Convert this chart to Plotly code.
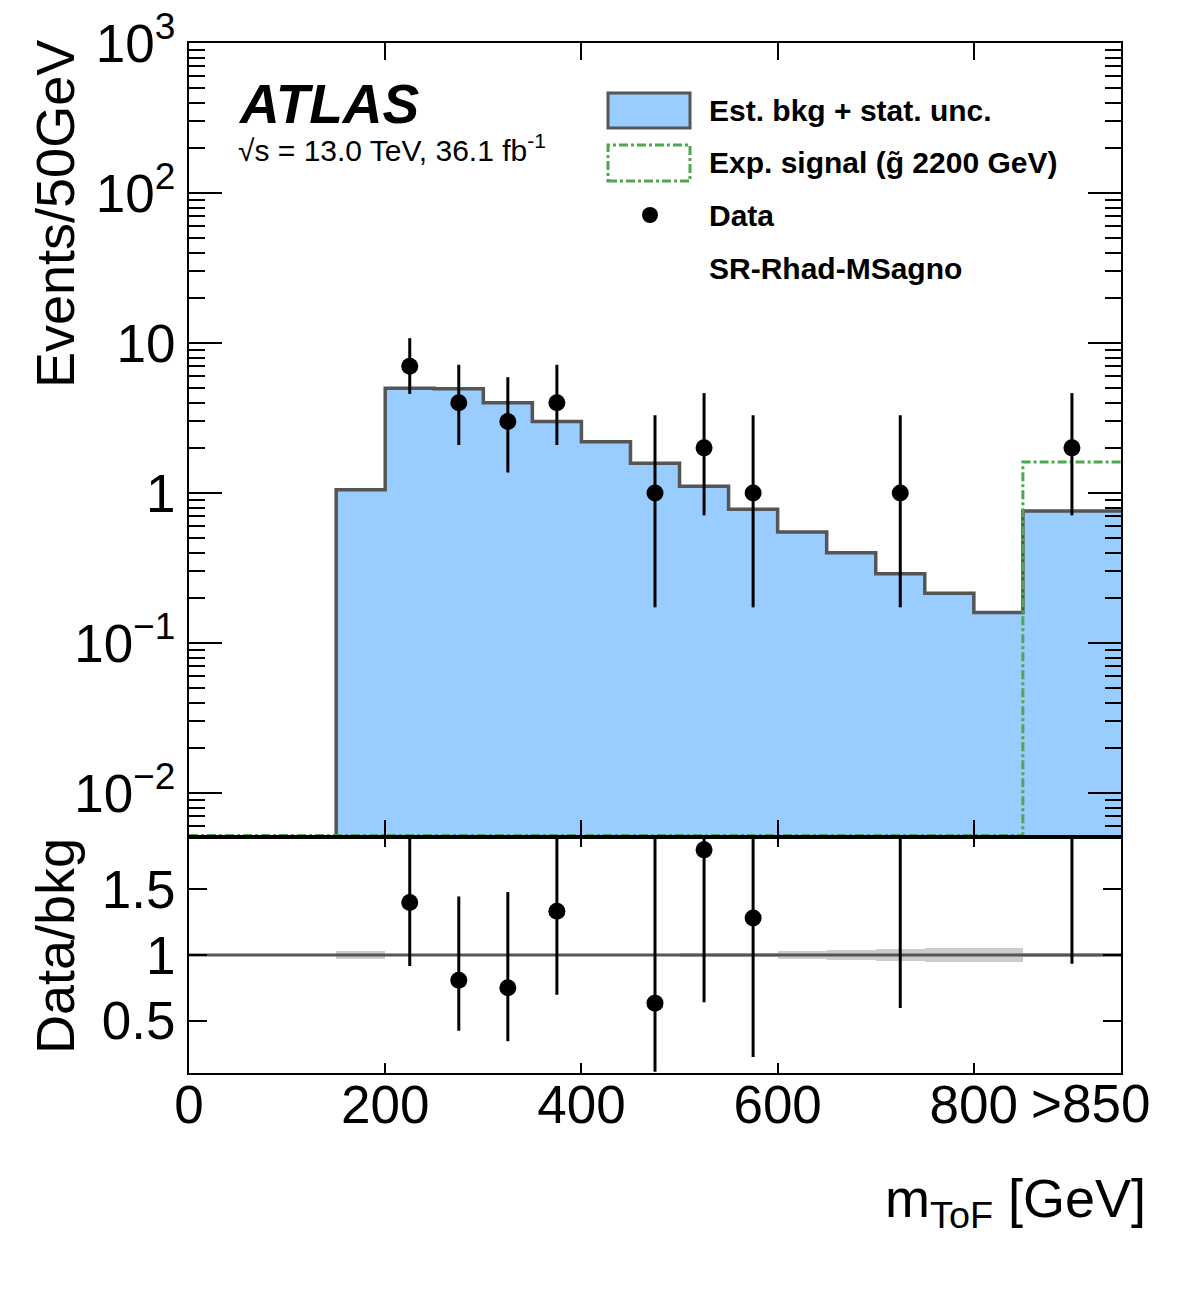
import plotly.graph_objects as go
import numpy as np

# ---------------- data ----------------
bin_edges = [0, 150, 200, 250, 300, 350, 400, 450, 500, 550, 600, 650, 700, 750, 800, 850, 950]
bkg = [0, 1.05, 5.0, 4.95, 4.0, 3.0, 2.2, 1.58, 1.11, 0.78, 0.55, 0.40, 0.29, 0.215, 0.16, 0.76]
bkg_rel_unc = [0, 0.03, 0.006, 0.006, 0.008, 0.008, 0.01, 0.01, 0.012, 0.015, 0.03, 0.04, 0.045, 0.05, 0.057, 0.012]
signal = [0, 0, 0, 0, 0, 0, 0, 0, 0, 0, 0, 0, 0, 0, 0, 1.61]

data_x = [225, 275, 325, 375, 475, 525, 575, 725, 900]
data_y = [7, 4, 3, 4, 1, 2, 1, 1, 2]
data_err_up = [3.77, 3.16, 2.92, 3.16, 2.30, 2.64, 2.30, 2.30, 2.64]
data_err_dn = [2.42, 1.91, 1.63, 1.91, 0.827, 1.29, 0.827, 0.827, 1.29]

y_tickvals = [1e-2, 1e-1, 1, 10, 1e2, 1e3]
y_ticktext = ["10<sup>\u22122</sup>", "10<sup>\u22121</sup>", "1", "10", "10<sup>2</sup>", "10<sup>3</sup>"]
x_tickvals = [0, 200, 400, 600, 800]
x_ticktext = ["0", "200", "400", "600", "800"]
r_tickvals = [0.5, 1, 1.5]
r_ticktext = ["0.5", "1", "1.5"]

# ---------------- geometry ----------------
W, H = 1182, 1311
L, R, T, B = 189, 1121, 43, 1073
SPLIT = 837
YMIN_LOG = -2.293
YMAX_LOG = 3.0
FONT = "Liberation Sans, Arial, Helvetica, sans-serif"
TICK_SIZE = 53

def px2x(px):
    return (px - L) / (R - L)

def py2y(py):
    return (B - py) / (B - T)

lo = bin_edges[:-1]
hi = bin_edges[1:]
centers = [(a + b) / 2 for a, b in zip(lo, hi)]
widths = [b - a for a, b in zip(lo, hi)]
ymin = 10 ** YMIN_LOG
floor = ymin * 0.1

fig = go.Figure()

# background filled histogram
fig.add_trace(go.Bar(x=centers, y=[v if v > 0 else None for v in bkg], width=widths,
                     marker=dict(color="#99ccff", line=dict(width=0)),
                     xaxis="x", yaxis="y", showlegend=False, hoverinfo="skip"))

# background outline
step_x = lo + [hi[-1]]
step_y = [v if v > 0 else floor for v in bkg] + [bkg[-1]]
fig.add_trace(go.Scatter(x=step_x, y=step_y, mode="lines", line=dict(color="#555555", width=3.5, shape="hv"),
                         xaxis="x", yaxis="y", showlegend=False, hoverinfo="skip"))

# signal outline
sig_y = [v if v > 0 else ymin * 1.025 for v in signal] + [signal[-1]]
fig.add_trace(go.Scatter(x=step_x, y=sig_y, mode="lines",
                         line=dict(color="#4fa84f", width=3, shape="hv", dash="dashdot"),
                         xaxis="x", yaxis="y", showlegend=False, hoverinfo="skip"))

# data
fig.add_trace(go.Scatter(x=data_x, y=data_y, mode="markers",
                         marker=dict(color="black", size=17),
                         error_y=dict(type="data", array=data_err_up, arrayminus=data_err_dn,
                                      color="black", thickness=3, width=0),
                         xaxis="x", yaxis="y", showlegend=False, hoverinfo="skip"))

# ---------------- ratio ----------------
band_base = [1 - u for u in bkg_rel_unc]
band_h = [2 * u for u in bkg_rel_unc]
fig.add_trace(go.Bar(x=centers[1:], y=band_h[1:], base=band_base[1:], width=widths[1:],
                     marker=dict(color="#cccccc", line=dict(width=0)),
                     xaxis="x2", yaxis="y2", showlegend=False, hoverinfo="skip"))
fig.add_trace(go.Scatter(x=[bin_edges[0], bin_edges[-1]], y=[1, 1], mode="lines",
                         line=dict(color="#555555", width=3),
                         xaxis="x2", yaxis="y2", showlegend=False, hoverinfo="skip"))

bkg_at = {c: b for c, b in zip(centers, bkg)}
ratio = [d / bkg_at[x] for x, d in zip(data_x, data_y)]
r_up = [e / bkg_at[x] for x, e in zip(data_x, data_err_up)]
r_dn = [e / bkg_at[x] for x, e in zip(data_x, data_err_dn)]
fig.add_trace(go.Scatter(x=data_x, y=ratio, mode="markers",
                         marker=dict(color="black", size=17),
                         error_y=dict(type="data", array=r_up, arrayminus=r_dn,
                                      color="black", thickness=3, width=0),
                         cliponaxis=True,
                         xaxis="x2", yaxis="y2", showlegend=False, hoverinfo="skip"))

split_paper = py2y(SPLIT)

minor_log = [m * 10.0 ** e for e in range(-3, 3) for m in range(2, 10)]

axis_common = dict(showgrid=False, zeroline=False, showline=True, linecolor="black", linewidth=2,
                   ticks="inside", tickcolor="black", tickwidth=2, mirror="allticks", automargin=False)

fig.update_layout(
    width=W, height=H,
    margin=dict(l=L, r=W - R, t=T, b=H - B, autoexpand=False),
    paper_bgcolor="white", plot_bgcolor="white",
    font=dict(family=FONT, color="black"),
    barmode="overlay", bargap=0,
    xaxis=dict(domain=[0, 1], range=[0, 950], anchor="y", matches="x2",
               tickvals=x_tickvals, showticklabels=False, ticklen=17, **axis_common),
    yaxis=dict(domain=[split_paper, 1], type="log", range=[YMIN_LOG, YMAX_LOG], anchor="x",
               tickvals=y_tickvals, ticktext=y_ticktext, ticklen=33,
               tickfont=dict(size=TICK_SIZE, family=FONT), ticklabelstandoff=1,
               minor=dict(tickvals=minor_log, ticks="inside", ticklen=16, tickcolor="black", tickwidth=2),
               **axis_common),
    xaxis2=dict(domain=[0, 1], range=[0, 950], anchor="y2",
                tickvals=x_tickvals, ticktext=x_ticktext, ticklen=10,
                tickfont=dict(size=TICK_SIZE, family=FONT), ticklabelstandoff=-16, **axis_common),
    yaxis2=dict(domain=[0, split_paper], range=[0.1, 1.9], anchor="x2",
                tickvals=r_tickvals, ticktext=r_ticktext, ticklen=18,
                tickfont=dict(size=TICK_SIZE, family=FONT), ticklabelstandoff=1, **axis_common),
)

ann = []
# axis titles
ann.append(dict(text="Events/50GeV", x=px2x(55), y=py2y(38), xref="paper", yref="paper",
                xanchor="center", yanchor="top", textangle=-90, showarrow=False,
                font=dict(size=54, family=FONT)))
ann.append(dict(text="Data/bkg", x=px2x(55), y=py2y(836), xref="paper", yref="paper",
                xanchor="center", yanchor="top", textangle=-90, showarrow=False,
                font=dict(size=54, family=FONT)))
ann.append(dict(text="m<sub>ToF</sub> [GeV]", x=px2x(1148), y=py2y(1202), xref="paper", yref="paper",
                xanchor="right", yanchor="middle", showarrow=False,
                font=dict(size=54, family=FONT)))
ann.append(dict(text=">850", x=px2x(1090), y=py2y(1103), xref="paper", yref="paper",
                xanchor="center", yanchor="middle", showarrow=False,
                font=dict(size=TICK_SIZE, family=FONT)))
# ATLAS label
ann.append(dict(text="<b><i>ATLAS</i></b>", x=px2x(236), y=py2y(104), xref="paper", yref="paper",
                xanchor="left", yanchor="middle", showarrow=False,
                font=dict(size=55, family=FONT)))
ann.append(dict(text="\u221As = 13.0 TeV, 36.1 fb<sup>-1</sup>", x=px2x(236), y=py2y(148), xref="paper", yref="paper",
                xanchor="left", yanchor="middle", showarrow=False,
                font=dict(size=30, family=FONT)))
# legend texts
leg_texts = ["Est. bkg + stat. unc.", "Exp. signal (g\u0303 2200 GeV)", "Data", "SR-Rhad-MSagno"]
leg_y = [111, 162, 215, 268]
for t, yy in zip(leg_texts, leg_y):
    ann.append(dict(text="<b>" + t + "</b>", x=px2x(707), y=py2y(yy), xref="paper", yref="paper",
                    xanchor="left", yanchor="middle", showarrow=False,
                    font=dict(size=30, family=FONT)))
fig.update_layout(annotations=ann)

shapes = [
    dict(type="rect", xref="paper", yref="paper", x0=px2x(608), x1=px2x(690), y0=py2y(128), y1=py2y(93),
         fillcolor="#99ccff", line=dict(color="#555555", width=3)),
    dict(type="rect", xref="paper", yref="paper", x0=px2x(608), x1=px2x(690), y0=py2y(181), y1=py2y(145),
         fillcolor="rgba(0,0,0,0)", line=dict(color="#4fa84f", width=3, dash="dashdot")),
    dict(type="circle", xref="paper", yref="paper", x0=px2x(642), x1=px2x(658), y0=py2y(223), y1=py2y(207),
         fillcolor="black", line=dict(color="black", width=0)),
]
fig.update_layout(shapes=shapes)

fig.write_html("out.html")
